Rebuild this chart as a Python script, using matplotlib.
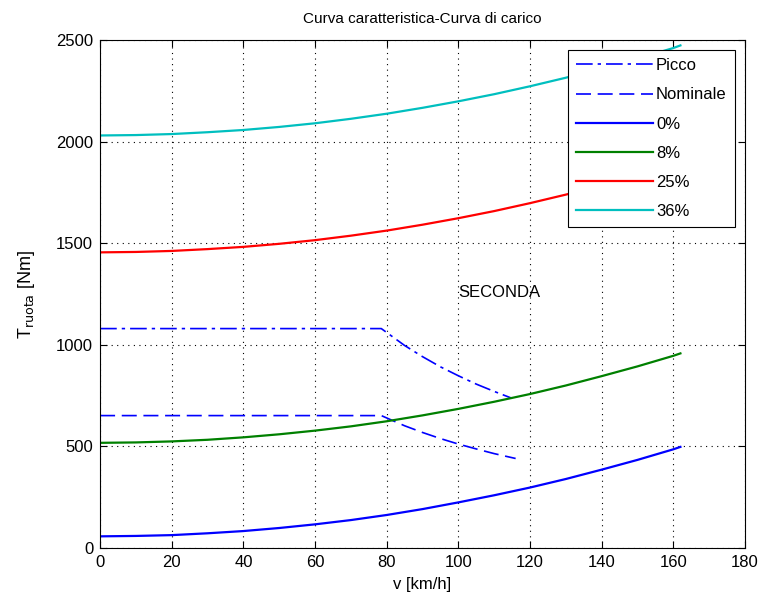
import numpy as np
import matplotlib.pyplot as plt

# velocita [km/h]
v_res = [0, 10, 20, 30, 40, 50, 60, 70, 80, 90, 100, 110, 120, 130, 140, 150, 160, 162]
# curve di carico [Nm] per pendenza
t_0 = [58, 60, 64, 73, 84, 99, 117, 138, 163, 192, 225, 260, 298, 340, 386, 434, 486, 498]
t_8 = [518, 520, 525, 533, 545, 560, 578, 599, 624, 653, 685, 720, 758, 800, 846, 894, 946, 958]
t_25 = [1455, 1457, 1462, 1471, 1482, 1497, 1515, 1537, 1562, 1591, 1623, 1658, 1697, 1739, 1784, 1833, 1885, 1898]
t_36 = [2030, 2032, 2037, 2046, 2057, 2072, 2090, 2112, 2137, 2166, 2198, 2233, 2272, 2314, 2359, 2408, 2460, 2473]

# curva caratteristica motore in seconda
v_picco = [0, 78.5, 85, 90, 95, 100, 105, 110, 115]
t_picco = [1080, 1080, 997, 942, 892, 848, 807, 771, 737]
v_nom = [0, 78.5, 85, 90, 95, 100, 105, 110, 116]
t_nom = [652, 652, 602, 569, 539, 512, 488, 465, 441]

plt.rcParams['font.family'] = ['Liberation Sans', 'DejaVu Sans']
fig = plt.figure(figsize=(7.64, 6.05), dpi=100)
ax = fig.add_axes([0.131, 0.094, 0.844, 0.84])

ax.plot(v_picco, t_picco, color='blue', lw=1.2, label='Picco', dashes=(10, 3, 2, 3))
ax.plot(v_nom, t_nom, color='blue', lw=1.2, label='Nominale', dashes=(9, 4))
ax.plot(v_res, t_0, '-', color='blue', lw=1.6, label='0%')
ax.plot(v_res, t_8, '-', color='#008000', lw=1.6, label='8%')
ax.plot(v_res, t_25, '-', color='red', lw=1.6, label='25%')
ax.plot(v_res, t_36, '-', color='#00bfbf', lw=1.6, label='36%')

ax.set_xlim(0, 180)
ax.set_ylim(0, 2500)
ax.set_xticks(np.arange(0, 181, 20))
ax.set_yticks(np.arange(0, 2501, 500))
ax.grid(True, linestyle=(0, (1, 4)), color='black', lw=0.8)
ax.tick_params(direction='in', length=5, labelsize=12, top=True, right=True, pad=5)
for s in ax.spines.values():
    s.set_linewidth(0.8)

ax.set_title('Curva caratteristica-Curva di carico', fontsize=11, pad=12)
ax.set_xlabel('v [km/h]', fontsize=12, labelpad=5)
ax.set_ylabel(r'T$_{\rm ruota}$ [Nm]', fontsize=13, labelpad=14)
ax.text(100, 1235, 'SECONDA', fontsize=12)

leg = ax.legend(loc='upper right', fontsize=12, fancybox=False, framealpha=1,
                edgecolor='black', handlelength=4.6, borderaxespad=0.6,
                labelspacing=0.85, handletextpad=0.2, borderpad=0.5)
leg.get_frame().set_linewidth(0.8)

plt.savefig('out.png', dpi=100)
